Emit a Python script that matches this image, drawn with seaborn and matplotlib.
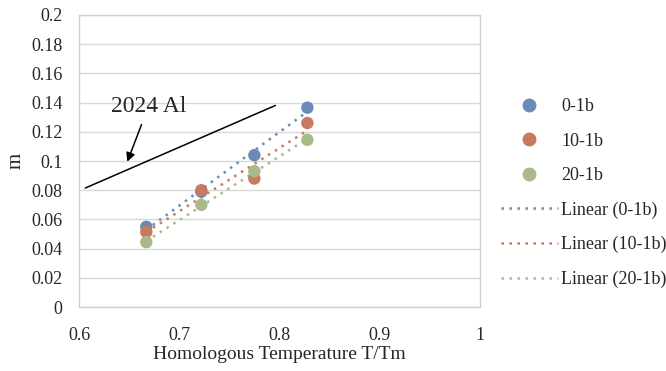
import numpy as np
import pandas as pd
import matplotlib
matplotlib.use("Agg")
import matplotlib.pyplot as plt
import seaborn as sns
from matplotlib.lines import Line2D

temps = [0.667, 0.722, 0.775, 0.828]
m_0 = [0.055, 0.079, 0.104, 0.1365]
m_10 = [0.0515, 0.080, 0.088, 0.126]
m_20 = [0.0445, 0.070, 0.093, 0.1145]
series = ["0-1b", "10-1b", "20-1b"]
colors = ["#6a8ab8", "#c87a5e", "#a8b98a"]

# 2024 Al reference line
al_x = [0.606, 0.796]
al_y = [0.0815, 0.138]

sns.set_style("white")
plt.rcParams["font.family"] = ["Liberation Serif", "DejaVu Serif"]

df = pd.DataFrame({"T": temps * 3,
                   "m": m_0 + m_10 + m_20,
                   "load": sum([[s] * len(temps) for s in series], [])})

fig, ax = plt.subplots(figsize=(6.66, 3.71), dpi=100)

sns.scatterplot(data=df, x="T", y="m", hue="load", palette=colors, s=80,
                edgecolor="none", ax=ax, zorder=3, legend=False)

for s, c in zip(series, colors):
    sub = df[df["load"] == s]
    k, b = np.polyfit(sub["T"], sub["m"], 1)
    xs = np.array([sub["T"].min(), sub["T"].max()])
    ax.plot(xs, k * xs + b, linestyle=(0, (1, 2.2)), color=c, lw=1.8, zorder=2)

ax.plot(al_x, al_y, color="black", lw=1.1)
ax.annotate("2024 Al", xy=(0.648, 0.0995), xytext=(0.669, 0.137),
            fontsize=17, ha="center", va="center",
            arrowprops=dict(arrowstyle="-|>", color="black", lw=1.1,
                            shrinkA=3, shrinkB=0, mutation_scale=13))

# legend
handles = [Line2D([], [], marker="o", ls="none", color=c, markersize=9) for c in colors]
handles += [Line2D([], [], ls=(0, (1, 2.2)), color=c, lw=1.8) for c in colors]
labels = series + ["Linear (%s)" % s for s in series]
ax.legend(handles, labels, loc="center left", bbox_to_anchor=(1.012, 0.39),
          frameon=False, fontsize=13, labelspacing=0.96, handlelength=3.2,
          handletextpad=0.15)

ax.set_xlim(0.6, 1.0)
ax.set_ylim(0, 0.2)
ax.set_xticks(np.arange(0.6, 1.01, 0.1))
ax.set_xticklabels(["0.6", "0.7", "0.8", "0.9", "1"])
ax.set_yticks(np.arange(0, 0.201, 0.02))
ax.set_yticklabels(["0", "0.02", "0.04", "0.06", "0.08", "0.1", "0.12",
                    "0.14", "0.16", "0.18", "0.2"])
ax.grid(axis="y", color="#d9d9d9", lw=1)
for sp in ax.spines.values():
    sp.set_color("#d0d0d0")
    sp.set_linewidth(1)
ax.tick_params(labelsize=13, length=0)
ax.tick_params(axis="y", pad=12)
ax.tick_params(axis="x", pad=14)
ax.set_xlabel("Homologous Temperature T/Tm", fontsize=14, labelpad=2)
ax.set_ylabel("m", fontsize=15, labelpad=4)

fig.subplots_adjust(left=0.119, right=0.72, top=0.96, bottom=0.172)
fig.savefig("out.png", dpi=100)
